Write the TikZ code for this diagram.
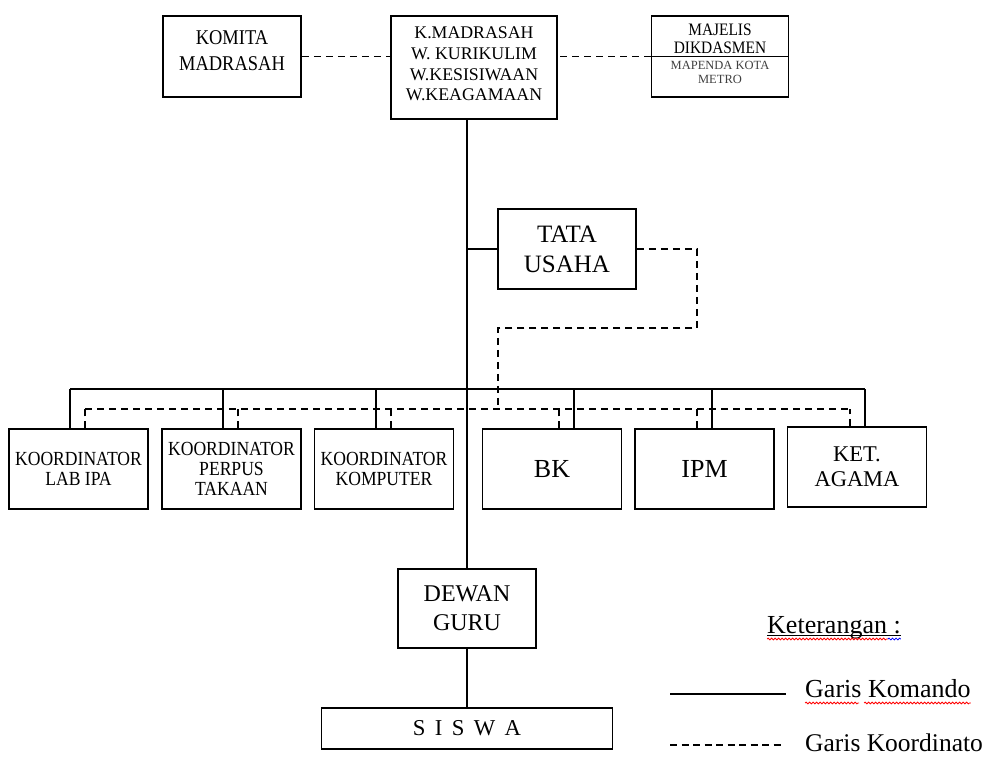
\documentclass[tikz,border=0pt]{standalone}
\usepackage{fontspec}
\setmainfont{Liberation Serif}
\newfontfamily\condfont{Liberation Serif}[FakeStretch=0.88]
\usetikzlibrary{decorations.pathmorphing}
\tikzset{
  box/.style={draw, line width=1.5pt, inner sep=0pt, align=center},
  cmd/.style={line width=1.4pt},
  crd/.style={line width=1.3pt, dash pattern=on 7pt off 5pt},
  txt/.style={inner sep=0pt, align=center},
  wavy/.style={line width=0.8pt, decorate, decoration={snake, amplitude=0.9pt, segment length=3.5pt}},
}
\begin{document}
\begin{tikzpicture}[x=1pt,y=-1pt]
\fill[white] (0,0) rectangle (993,758);
\useasboundingbox (0,0) rectangle (993,758);

% top row
\node[box, minimum width=138pt, minimum height=81pt] (komite) at (232,56.5) {};
\node[txt, font=\condfont\fontsize{21}{26}\selectfont] (komitetext) at (232,51) {KOMITA\\MADRASAH};

\node[box, minimum width=166pt, minimum height=103pt] (kmad) at (474,67.5) {};
\node[txt, font=\fontsize{17.8}{20.7}\selectfont] (kmadtext) at (474,64) {K.MADRASAH\\W. KURIKULIM\\W.KESISIWAAN\\W.KEAGAMAAN};

\node[box, minimum width=137pt, minimum height=81pt] (majelis) at (720,56.5) {};
\draw[line width=1.5pt] (majelis.west) -- (majelis.east);
\node[txt, font=\condfont\fontsize{17.5}{18}\selectfont] (majtext) at (720,38.5) {MAJELIS\\DIKDASMEN};
\node[txt, font=\fontsize{12.5}{14.5}\selectfont, text=black!75] (mapenda) at (720,72.5) {MAPENDA KOTA\\METRO};

% tata usaha
\node[box, minimum width=138pt, minimum height=80pt, font=\fontsize{25}{30}\selectfont] (tata) at (567,249) {TATA\\USAHA};

% row of units
\tikzset{unit/.style={box, minimum width=139pt, minimum height=80pt}}
\node[unit, font=\condfont\fontsize{20}{20}\selectfont] (lab) at (78.5,469) {KOORDINATOR\\LAB IPA};
\node[unit, font=\condfont\fontsize{20}{20}\selectfont] (perpus) at (231.5,469) {KOORDINATOR\\PERPUS\\TAKAAN};
\node[unit, font=\condfont\fontsize{20}{20}\selectfont] (komp) at (384,469) {KOORDINATOR\\KOMPUTER};
\node[unit, font=\fontsize{26}{30}\selectfont] (bk) at (552,469) {BK};
\node[unit, font=\fontsize{26}{30}\selectfont] (ipm) at (704.5,469) {IPM};
\node[unit, font=\fontsize{22.5}{25}\selectfont] (ket) at (857,467) {KET.\\AGAMA};

% dewan guru and siswa
\node[box, minimum width=138pt, minimum height=79pt, font=\fontsize{24}{29}\selectfont] (dewan) at (467,608.5) {DEWAN\\GURU};
\node[box, minimum width=291pt, minimum height=41pt, font=\fontsize{22.7}{26}\selectfont] (siswa) at (467,728.5) {{\spaceskip=9.4pt S I S W A}};

% coordination lines (top)
\draw[crd] (komite.east) -- (komite.east -| kmad.west);
\draw[crd] (majelis.west) -- (majelis.west -| kmad.east);

% command trunk
\draw[cmd] (kmad.south -| dewan.north) -- (dewan.north);
\draw[cmd] (tata.west -| dewan.north) -- (tata.west);
\draw[cmd] (dewan.south) -- (siswa.north);

% tata usaha coordination path
\coordinate (tu1) at (697,328);
\coordinate (tu2) at (498,409);
\draw[crd] (tata.east) -| (tu1) -| (tu2);

% command bus
\coordinate (sbusL) at (70,389);
\coordinate (sbusR) at (865,389);
\draw[cmd] (sbusL) -- (sbusR);
\foreach \n/\d in {lab/-8.5, perpus/-8.5, komp/-8, bk/22, ipm/7.5, ket/8}
  \draw[cmd] ([xshift=\d pt]\n.north) -- ([xshift=\d pt]\n.north |- sbusL);

% coordination bus
\coordinate (dbusL) at (85,409);
\coordinate (dbusR) at (850,409);
\draw[crd] (dbusL) -- (dbusR);
\foreach \n/\d in {lab/6.5, perpus/6.5, komp/7, bk/7, ipm/-7.5, ket/-7}
  \draw[crd] ([xshift=\d pt]\n.north) -- ([xshift=\d pt]\n.north |- dbusL);

% legend
\node[anchor=base west, inner sep=0pt, font=\fontsize{26}{30}\selectfont] (keter) at (767,633) {Keterangan :};
\draw[line width=0.9pt] ([yshift=-2.5pt]keter.base west) -- ([yshift=-2.5pt]keter.base east);
\draw[wavy, red] ([yshift=-6pt]keter.base west) -- ([yshift=-6pt, xshift=-13pt]keter.base east);
\draw[wavy, blue] ([yshift=-6pt, xshift=-13pt]keter.base east) -- ([yshift=-6pt]keter.base east);

\coordinate (l1a) at (670,694);
\coordinate (l1b) at (786,694);
\draw[line width=1.4pt] (l1a) -- (l1b);
\node[anchor=base west, inner sep=0pt, font=\fontsize{26}{30}\selectfont] (gkom) at (805,697) {Garis Komando};
\draw[wavy, red] ([yshift=-6pt]gkom.base west) -- ([yshift=-6pt, xshift=54pt]gkom.base west);
\draw[wavy, red] ([yshift=-6pt, xshift=59pt]gkom.base west) -- ([yshift=-6pt]gkom.base east);

\coordinate (l2a) at (670,745);
\coordinate (l2b) at (783,745);
\draw[line width=1.3pt, dash pattern=on 7pt off 4.5pt] (l2a) -- (l2b);
\node[anchor=base west, inner sep=0pt, font=\fontsize{25.5}{30}\selectfont] (gkoor) at (805,751) {Garis Koordinato};
\end{tikzpicture}
\end{document}
